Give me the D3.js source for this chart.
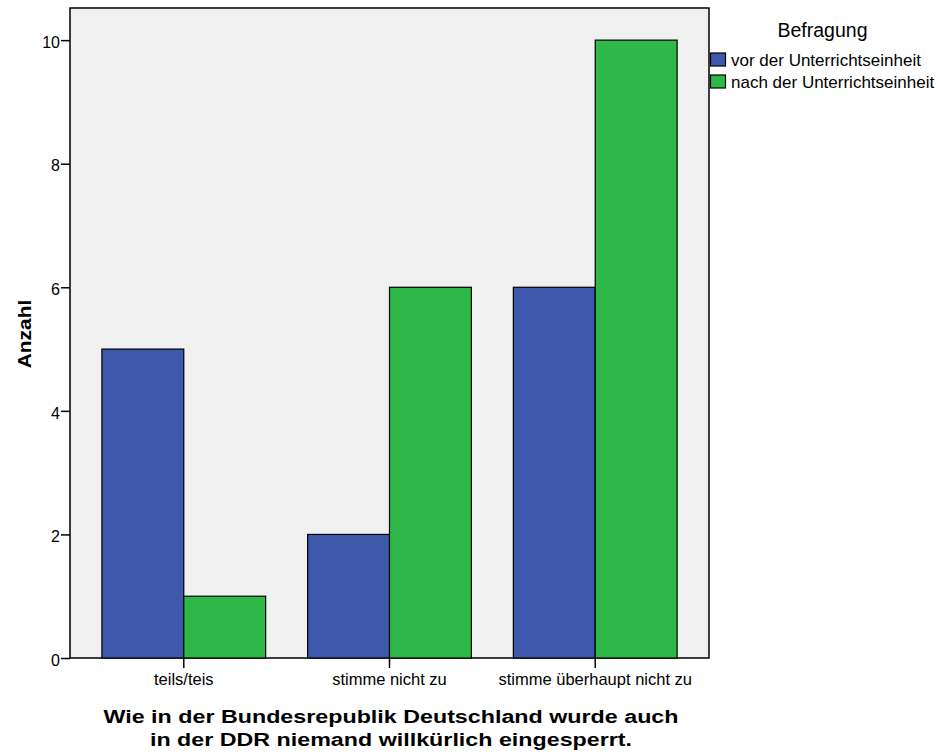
<!DOCTYPE html>
<html><head><meta charset="utf-8">
<script src="https://cdn.jsdelivr.net/npm/d3@7"></script>
<style>body{margin:0;background:#fff;} svg{display:block;font-family:"Liberation Sans",Arial,sans-serif;}</style>
</head><body>
<script>
const categories = ["teils/teis", "stimme nicht zu", "stimme überhaupt nicht zu"];
const seriesNames = ["vor der Unterrichtseinheit", "nach der Unterrichtseinheit"];
const vorValues = [5, 2, 6];
const nachValues = [1, 6, 10];
const yTicks = [0, 2, 4, 6, 8, 10];
const colors = ["#3e58ac", "#2eb848"];

const W = 939, H = 756;
const pLeft = 70, pRight = 709, pTop = 8, pBottom = 658;
const svg = d3.select("body").append("svg").attr("width", W).attr("height", H);

const x = d3.scaleBand().domain(categories).range([pLeft, pRight]).paddingInner(0.204).paddingOuter(0.155);
const xs = d3.scaleBand().domain(seriesNames).range([0, x.bandwidth()]);
const y = d3.scaleLinear().domain([0, 10.52]).range([pBottom, pTop]);

svg.append("rect").attr("x", pLeft).attr("y", pTop).attr("width", pRight - pLeft).attr("height", pBottom - pTop)
  .attr("fill", "#f0f0f0").attr("stroke", "#000").attr("stroke-width", 1.5);

const data = categories.map((c, i) => ({cat: c, vals: [vorValues[i], nachValues[i]]}));
const g = svg.append("g");
data.forEach(d => {
  d.vals.forEach((v, j) => {
    g.append("rect").attr("x", x(d.cat) + xs(seriesNames[j])).attr("y", y(v))
      .attr("width", xs.bandwidth()).attr("height", y(0) - y(v))
      .attr("fill", colors[j]).attr("stroke", "#000").attr("stroke-width", 1.2);
  });
});

const yAxis = svg.append("g").attr("transform", `translate(${pLeft},0)`)
  .call(d3.axisLeft(y).tickValues(yTicks).tickFormat(d3.format("d")).tickSize(9).tickPadding(1));
yAxis.select(".domain").remove();
yAxis.selectAll("line").attr("stroke", "#000").attr("stroke-width", 1.5);
yAxis.selectAll("text").attr("font-size", 16).attr("fill", "#000").attr("dy", "0.45em")
  .attr("font-family", "Liberation Sans, Arial");

const xAxis = svg.append("g").attr("transform", `translate(0,${pBottom})`)
  .call(d3.axisBottom(x).tickSize(10).tickPadding(5));
xAxis.select(".domain").remove();
xAxis.selectAll("line").attr("stroke", "#000").attr("stroke-width", 1.5);
xAxis.selectAll("text").attr("font-size", 16.5).attr("fill", "#000").attr("font-family", "Liberation Sans, Arial");

svg.append("text").attr("transform", `translate(31,334) rotate(-90) scale(1.1,1)`)
  .attr("text-anchor", "middle").attr("font-size", 19).attr("font-weight", "bold").text("Anzahl");

const titleLines = ["Wie in der Bundesrepublik Deutschland wurde auch", "in der DDR niemand willkürlich eingesperrt."];
titleLines.forEach((t, i) => {
  svg.append("text").attr("transform", `translate(391,${723 + i * 23}) scale(1.225,1)`)
    .attr("text-anchor", "middle").attr("font-size", 19).attr("font-weight", "bold").text(t);
});

svg.append("text").attr("x", 822.5).attr("y", 37).attr("text-anchor", "middle").attr("font-size", 19.5).text("Befragung");
seriesNames.forEach((s, j) => {
  svg.append("rect").attr("x", 710.5).attr("y", 53 + j * 22).attr("width", 15).attr("height", 13)
    .attr("fill", colors[j]).attr("stroke", "#000").attr("stroke-width", 1.2);
  svg.append("text").attr("x", 731).attr("y", 66 + j * 22).attr("font-size", 17).text(s);
});
</script>
</body></html>
